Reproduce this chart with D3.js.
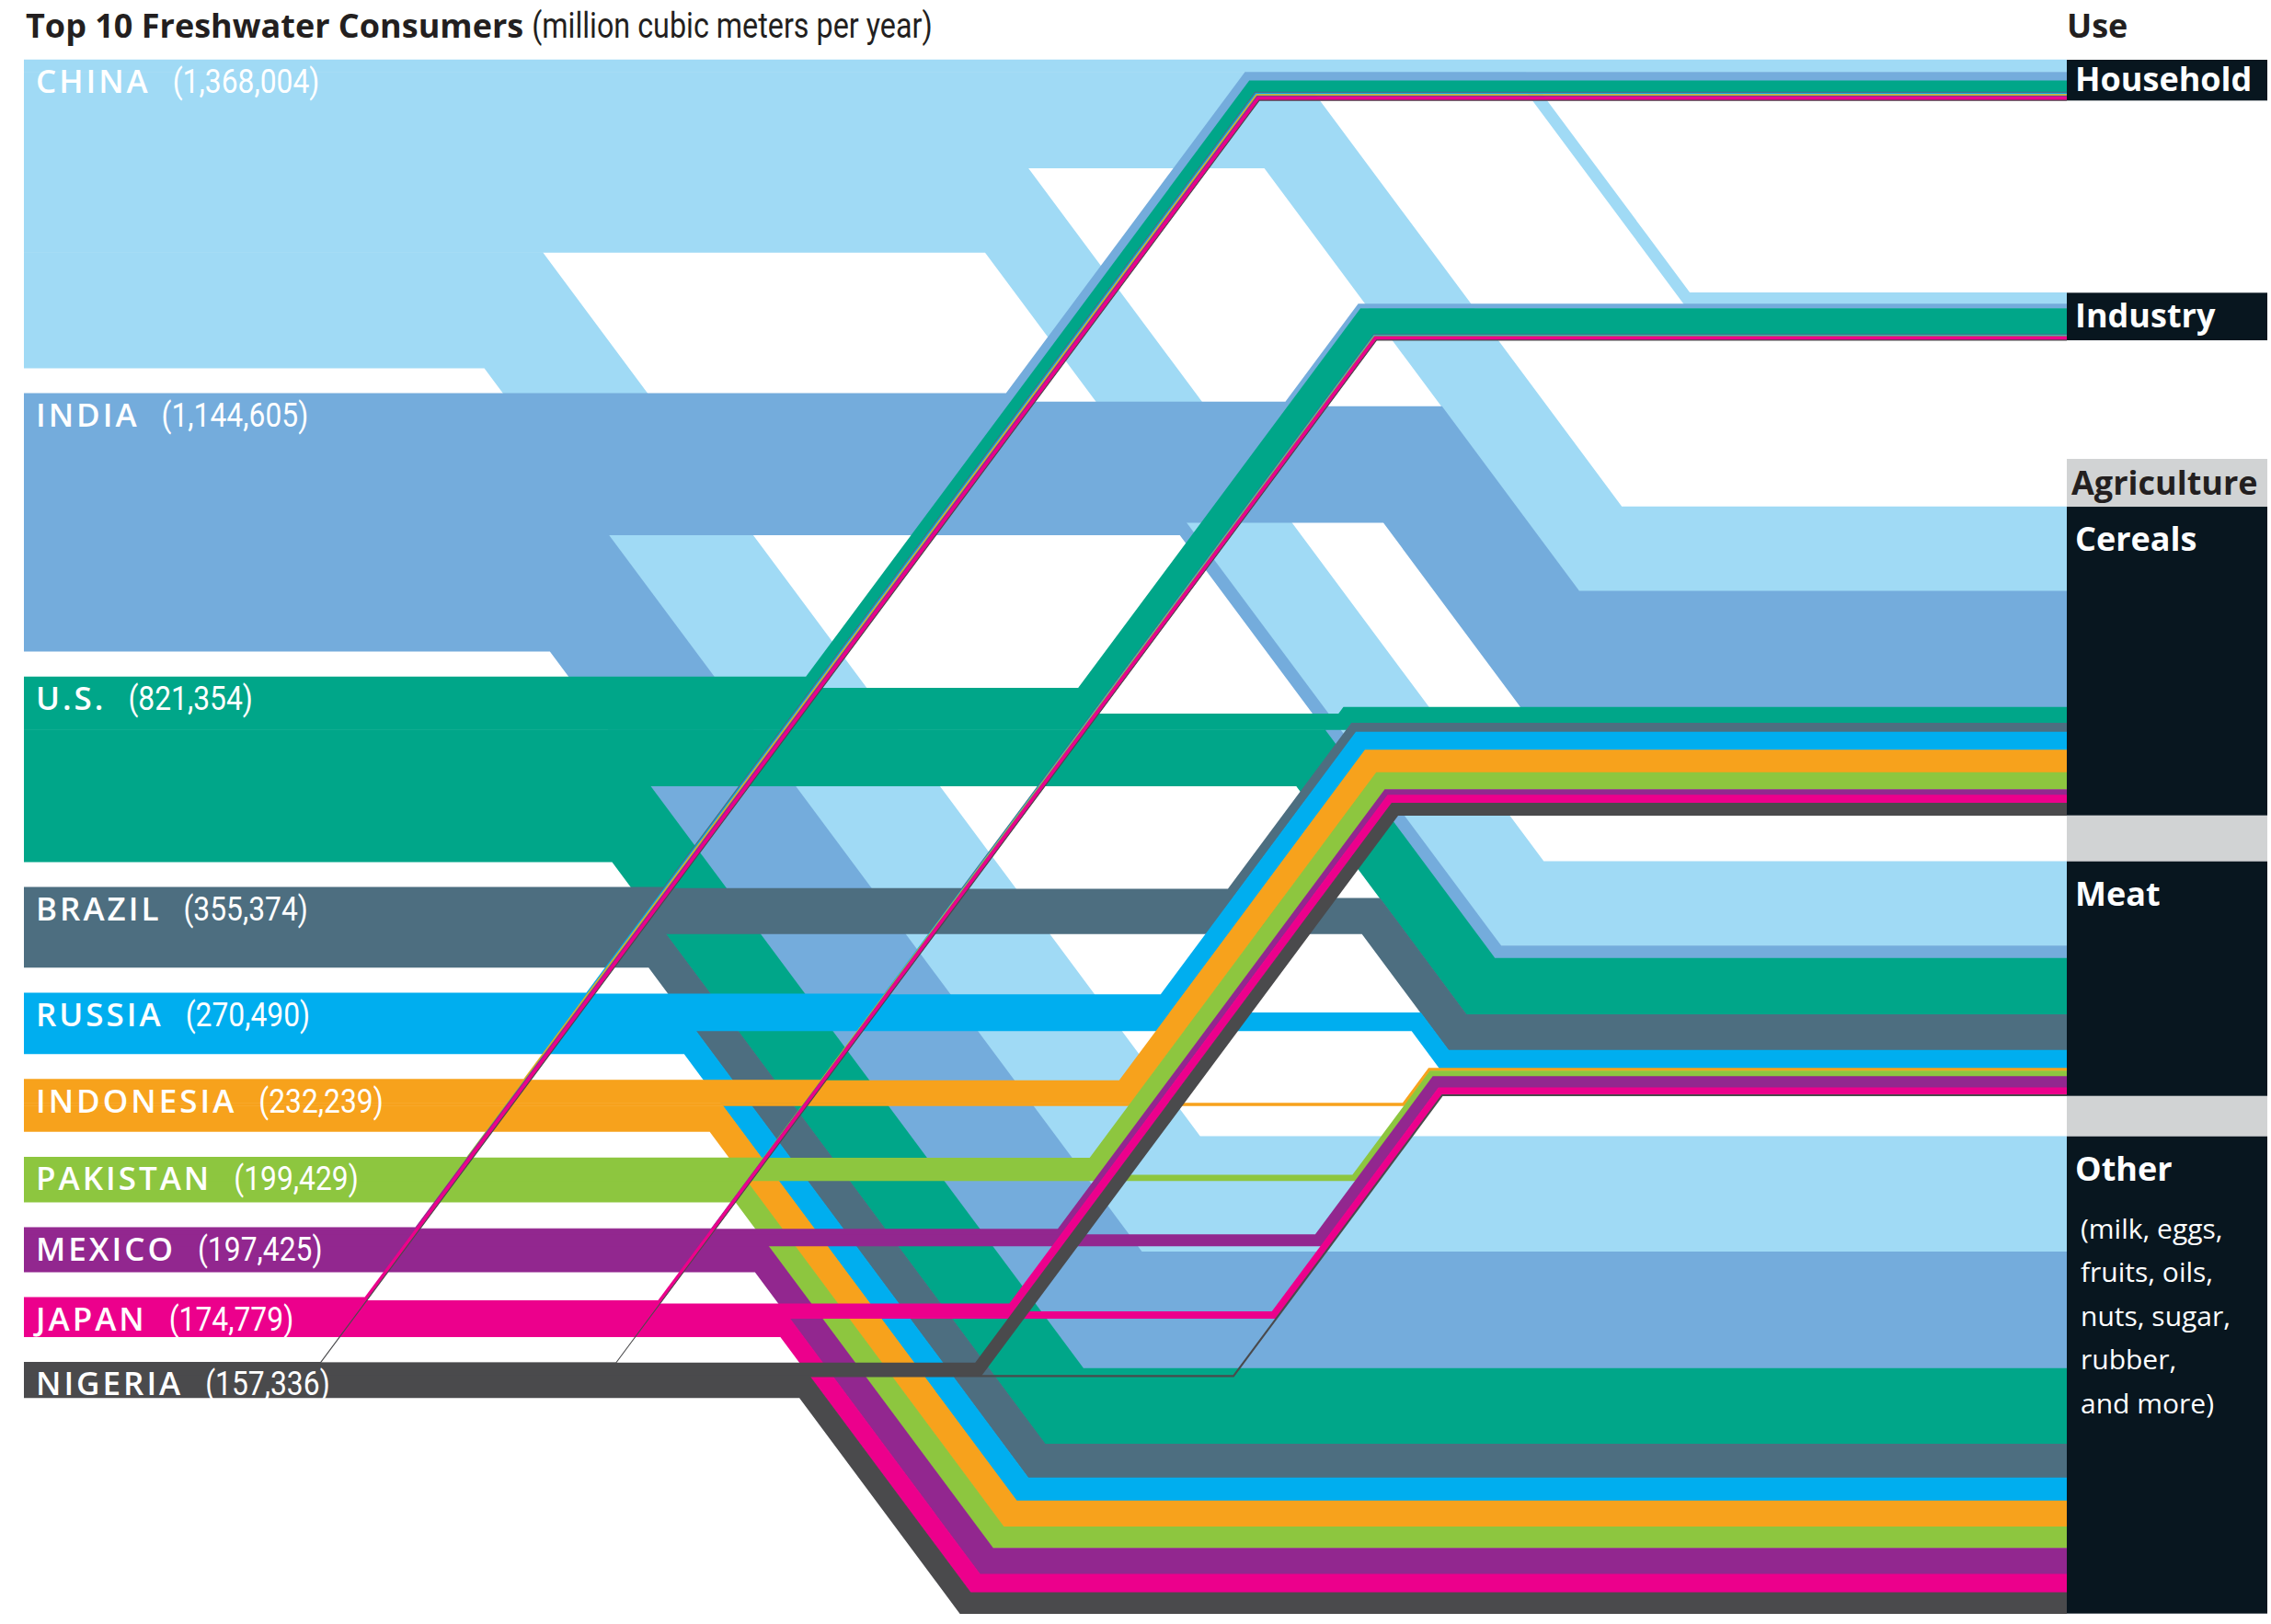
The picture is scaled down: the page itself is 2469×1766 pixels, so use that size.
<!DOCTYPE html>
<html>
<head>
<meta charset="utf-8">
<script src="https://cdn.jsdelivr.net/npm/d3@7"></script>
<style>
  html, body { margin: 0; padding: 0; background: #ffffff; }
  svg { display: block; }
</style>
</head>
<body>
<svg id="chart" width="2469" height="1766"></svg>
<script>
// ---- data (million cubic meters per year) ----
const countries = ["CHINA", "INDIA", "U.S.", "BRAZIL", "RUSSIA", "INDONESIA", "PAKISTAN", "MEXICO", "JAPAN", "NIGERIA"];
const totals    = [1368004, 1144605, 821354, 355374, 270490, 232239, 199429, 197425, 174779, 157336];

const useNames  = ["Household", "Industry", "Cereals", "Meat", "Other"];
const household = [55000, 38000, 50000, 5000, 5000, 4000, 3000, 5000, 14000, 2000];
const industry  = [50000, 20000, 115000, 3000, 3000, 1500, 1500, 2000, 14000, 1000];
const cereals   = [375000, 515000, 70000, 40000, 80000, 100000, 75000, 25000, 35000, 55000];
const meat      = [375000, 55000, 250000, 158000, 80000, 12000, 25000, 50000, 30000, 6000];
const other     = [513004, 516605, 336354, 149374, 102490, 114739, 94929, 115425, 81779, 93336];
const otherNote = ["(milk, eggs,", "fruits, oils,", "nuts, sugar,", "rubber,", "and more)"];

// ---- styling ----
const palette = ["#a0daf5", "#74acdc", "#00a689", "#4d6e80", "#00aeef",
                 "#f7a21c", "#8dc63f", "#92278f", "#ec008c", "#4a4a4c"];
const boxFill = "#08161f";
const greyFill = "#d1d3d4";
const inkColor = "#231f20";

// ---- layout ----
const layout = {
  xStart: 26, xEnd: 2247, boxRight: 2465,
  top: 65, bandGap: 27.7,
  rightGaps: [209, 181, 50, 44],
  slope: 1.345,
  // x where the first rising / falling band of each use levels off
  bendUp:   [1356, 1478, 1465, 1554, null],
  bendDown: [null, 1834, 1740, 1655, 1273]
};

const useValues = [household, industry, cereals, meat, other];

const svg = d3.select("#chart");
const vScale = d3.scaleLinear().domain([0, 1e6]).range([0, 245]);
const tanHalf = (Math.hypot(1, layout.slope) - 1) / layout.slope;

// left stacks: one band per country
const bandTop = [];
let cursor = layout.top;
totals.forEach(v => { bandTop.push(cursor); cursor += vScale(v) + layout.bandGap; });

// right stacks: one block per use
const useTotals = useValues.map(vals => d3.sum(vals));
const blockTop = [];
cursor = layout.top;
useTotals.forEach((v, u) => { blockTop.push(cursor); cursor += vScale(v) + (layout.rightGaps[u] || 0); });
const blockH = useTotals.map(v => vScale(v));

// each flow = one country x one use
const flows = [];
countries.forEach((c, i) => {
  let off = 0;
  useValues.forEach((vals, u) => {
    const t = vScale(vals[i]);
    flows.push({ i, u, t, yL: bandTop[i] + off + t / 2 });
    off += t;
  });
});
const flowAt = (i, u) => flows.find(d => d.i === i && d.u === u);

useValues.forEach((vals, u) => {
  let off = 0, prevDown = null, prevUp = null;
  countries.forEach((c, i) => {
    const f = flowAt(i, u);
    f.yR = blockTop[u] + off + f.t / 2;
    off += f.t;
    const dy = f.yR - f.yL;
    if (Math.abs(dy) < 1) { f.dir = 0; return; }
    if (dy > 0) {
      f.dir = 1;
      f.x2 = prevDown ? prevDown.x2 - tanHalf * (prevDown.t + f.t) / 2 : layout.bendDown[u];
      prevDown = f;
    } else {
      f.dir = -1;
      f.x2 = prevUp ? prevUp.x2 + tanHalf * (prevUp.t + f.t) / 2 : layout.bendUp[u];
      prevUp = f;
    }
    f.x1 = f.x2 - Math.abs(dy) / layout.slope;
  });
});

const line = d3.line();
function flowPoints(f) {
  if (f.dir === 0) return [[layout.xStart, f.yL], [layout.xEnd, f.yR]];
  return [[layout.xStart, f.yL], [f.x1, f.yL], [f.x2, f.yR], [layout.xEnd, f.yR]];
}

// falling and level bands first (top country first), rising bands over them
const ordered = flows.filter(f => f.dir >= 0).concat(flows.filter(f => f.dir < 0));

svg.append("g").attr("class", "flows")
  .selectAll("path")
  .data(ordered)
  .join("path")
  .attr("d", f => line(flowPoints(f)))
  .attr("fill", "none")
  .attr("stroke", f => palette[f.i])
  .attr("stroke-width", f => Math.max(f.t + 0.6, 1.1))
  .attr("stroke-linejoin", "miter")
  .attr("stroke-miterlimit", 10)
  .attr("stroke-linecap", "butt");

// ---- use column on the right ----
const boxW = layout.boxRight - layout.xEnd;
const rightG = svg.append("g").attr("class", "uses");

// grey joins between the agriculture blocks and the "Agriculture" header
rightG.append("rect")
  .attr("x", layout.xEnd).attr("y", blockTop[2] - 52)
  .attr("width", boxW).attr("height", 52).attr("fill", greyFill);
[2, 3].forEach(u => {
  rightG.append("rect")
    .attr("x", layout.xEnd).attr("y", blockTop[u] + blockH[u])
    .attr("width", boxW).attr("height", blockTop[u + 1] - blockTop[u] - blockH[u])
    .attr("fill", greyFill);
});

rightG.selectAll("rect.block")
  .data(useNames)
  .join("rect")
  .attr("class", "block")
  .attr("x", layout.xEnd)
  .attr("y", (d, u) => blockTop[u])
  .attr("width", boxW)
  .attr("height", (d, u) => blockH[u])
  .attr("fill", boxFill);

rightG.selectAll("text.use")
  .data(useNames)
  .join("text")
  .attr("class", "use")
  .attr("x", 2256)
  .attr("y", (d, u) => u < 2 ? blockTop[u] + blockH[u] / 2 + 12 : blockTop[u] + 48)
  .attr("fill", "#ffffff")
  .style("font-family", "'Open Sans', 'Noto Sans', sans-serif")
  .style("font-weight", 700)
  .style("font-size", "36px")
  .text(d => d);

rightG.append("text")
  .attr("x", 2252).attr("y", blockTop[2] - 13)
  .attr("fill", inkColor)
  .style("font-family", "'Open Sans', 'Noto Sans', sans-serif")
  .style("font-weight", 700)
  .style("font-size", "36px")
  .text("Agriculture");

rightG.selectAll("text.note")
  .data(otherNote)
  .join("text")
  .attr("class", "note")
  .attr("x", 2262)
  .attr("y", (d, k) => blockTop[4] + 111 + k * 47.5)
  .attr("fill", "#ffffff")
  .style("font-family", "'Open Sans', 'Noto Sans', sans-serif")
  .style("font-size", "30px")
  .text(d => d);

svg.append("text")
  .attr("x", 2247).attr("y", 41)
  .attr("fill", inkColor)
  .style("font-family", "'Open Sans', 'Noto Sans', sans-serif")
  .style("font-weight", 700)
  .style("font-size", "36px")
  .text("Use");

// ---- title ----
const title = svg.append("text")
  .attr("x", 28).attr("y", 41)
  .attr("fill", inkColor)
  .style("font-family", "'Open Sans', 'Noto Sans', sans-serif")
  .style("font-weight", 700)
  .style("font-size", "36px")
  .text("Top 10 Freshwater Consumers");
const titleEnd = 28 + title.node().getComputedTextLength();
svg.append("text")
  .attr("transform", `translate(${titleEnd + 9},41) scale(0.85,1)`)
  .attr("fill", inkColor)
  .style("font-family", "Roboto, 'Liberation Sans', sans-serif")
  .style("font-size", "38px")
  .text("(million cubic meters per year)");

// ---- country labels ----
const fmt = d3.format(",");
const labelG = svg.append("g").attr("class", "country-labels");
countries.forEach((c, i) => {
  const yb = bandTop[i] + 36;
  const name = labelG.append("text")
    .attr("x", 39).attr("y", yb)
    .attr("fill", "#ffffff")
    .style("font-family", "'Open Sans', 'Noto Sans', sans-serif")
    .style("font-weight", 600)
    .style("font-size", "35px")
    .style("letter-spacing", "3px")
    .text(c);
  const nameEnd = 39 + name.node().getComputedTextLength();
  labelG.append("text")
    .attr("transform", `translate(${nameEnd + 24},${yb}) scale(0.86,1)`)
    .attr("fill", "#ffffff")
    .style("font-family", "Roboto, 'Liberation Sans', sans-serif")
    .style("font-size", "37px")
    .text(`(${fmt(totals[i])})`);
});
</script>
</body>
</html>
